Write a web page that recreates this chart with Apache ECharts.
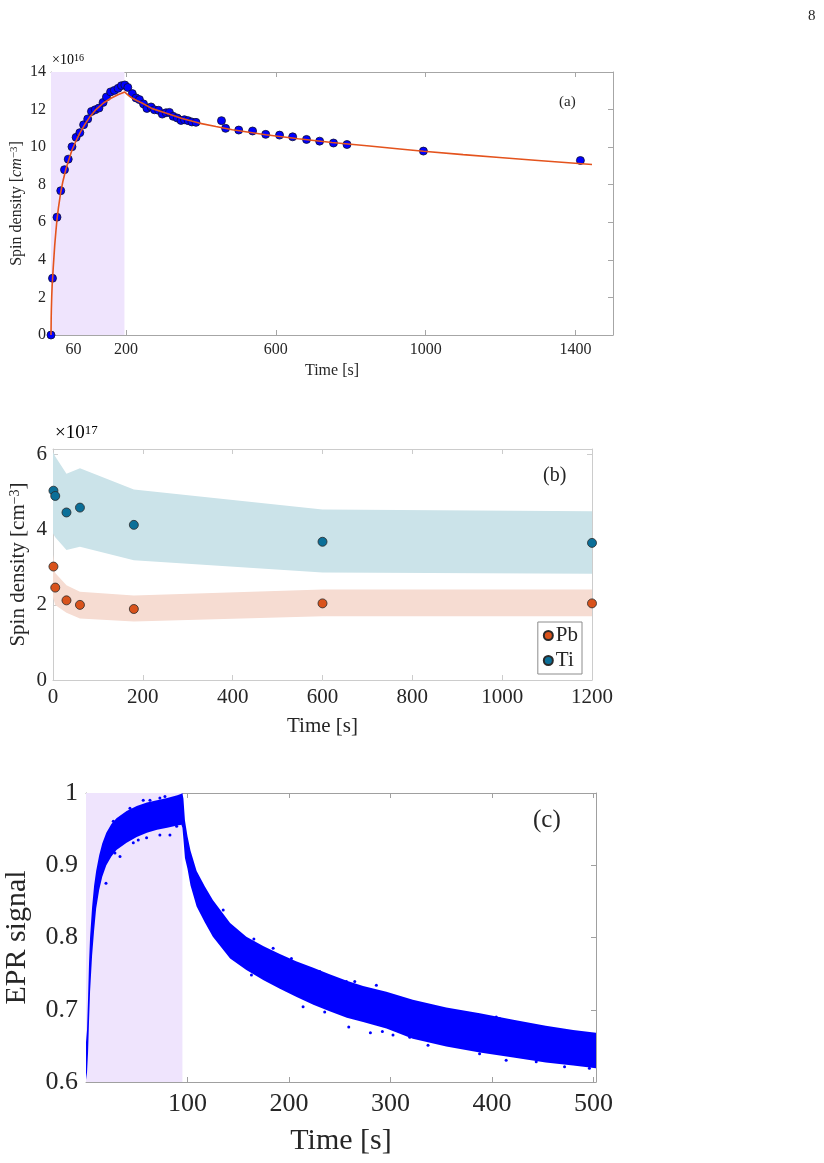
<!DOCTYPE html>
<html>
<head>
<meta charset="utf-8">
<script src="https://cdn.jsdelivr.net/npm/echarts@6/dist/echarts.min.js"></script>
<style>
html, body { margin: 0; padding: 0; background: #fff; }
#chart { width: 824px; height: 1163px; }
</style>
</head>
<body>
<div id="chart"></div>
<script>
// (a) spin density build-up and decay
const aTime = [0, 4, 16, 26, 36, 46, 56, 67, 77, 87, 98, 108, 118, 128, 139, 148, 159, 169, 179, 188, 197,
  205, 217, 227, 236, 247, 256, 267, 276, 287, 297, 307, 316, 326, 337, 347, 356, 366, 376, 387,
  455, 466, 501, 538, 573, 610, 645, 682, 717, 754, 790, 994, 1413];
const aSpin = [0, 3.02, 6.27, 7.68, 8.8, 9.36, 10.02, 10.52, 10.77, 11.19, 11.5, 11.9, 11.99, 12.08, 12.38, 12.67, 12.94, 13.02, 13.13, 13.27, 13.31,
  13.18, 12.85, 12.62, 12.53, 12.3, 12.06, 12.14, 11.99, 11.96, 11.76, 11.83, 11.85, 11.64, 11.55, 11.42, 11.46, 11.41, 11.34, 11.32,
  11.41, 11.0, 10.91, 10.86, 10.68, 10.64, 10.55, 10.41, 10.32, 10.22, 10.14, 9.79, 9.29];
const aFitTime = [0, 0.5, 1, 2, 3, 4.4, 6, 8, 10, 13, 16, 20, 26, 32, 40, 48, 56, 66, 77, 90, 105, 120, 140, 160, 180, 197,
  205, 216, 230, 243, 270, 306, 350, 395, 440, 484, 573, 660, 750, 850, 931, 994, 1100, 1197, 1300, 1444];
const aFitSpin = [0, 0.9, 1.4, 2.1, 2.6, 3.05, 3.6, 4.2, 4.8, 5.5, 6.15, 6.8, 7.6, 8.2, 8.85, 9.35, 9.85, 10.3, 10.75, 11.2, 11.65, 12.0, 12.35, 12.6, 12.8, 12.93,
  12.78, 12.62, 12.47, 12.35, 12.05, 11.82, 11.52, 11.28, 11.1, 10.93, 10.66, 10.45, 10.25, 10.06, 9.9, 9.78, 9.6, 9.45, 9.29, 9.08];
const aShade = [0, 196];
const aXTicks = [60, 200, 600, 1000, 1400];

// (b) Pb and Ti centres
const bTime = [1, 5, 30, 60, 180, 600, 1200];
const pbSpin = [3.02, 2.46, 2.12, 2.0, 1.89, 2.04, 2.04];
const tiSpin = [5.04, 4.9, 4.46, 4.59, 4.13, 3.68, 3.65];
const bandTime = [0, 5, 30, 60, 180, 600, 1200];
const tiUpper = [6.07, 5.95, 5.49, 5.64, 5.07, 4.54, 4.49];
const tiLower = [3.9, 3.8, 3.46, 3.55, 3.19, 2.86, 2.83];
const pbUpper = [3.35, 2.85, 2.52, 2.35, 2.25, 2.41, 2.41];
const pbLower = [2.2, 2.0, 1.79, 1.64, 1.56, 1.7, 1.7];
const bYTicks = [0, 2, 4, 6];

// (c) EPR signal cloud: upper / lower edge of the dense band, plus stray points
const cTime = [0, 1, 2, 3, 4, 6, 8, 10, 13, 16, 20, 25, 30, 40, 50, 60, 70, 80, 90, 94,
  95, 96, 97.5, 100, 103, 109, 117, 125, 142, 158, 175, 191, 207, 224, 240, 257, 273, 296, 322, 355,
  388, 421, 453, 480, 502.5];
const cUpper = [0.655, 0.672, 0.715, 0.765, 0.8, 0.842, 0.872, 0.892, 0.914, 0.93, 0.945, 0.957, 0.965, 0.975, 0.982, 0.987, 0.99, 0.993, 0.997, 0.999,
  1.0, 0.992, 0.962, 0.94, 0.92, 0.892, 0.871, 0.852, 0.82, 0.801, 0.788, 0.777, 0.767, 0.758, 0.749, 0.74, 0.733, 0.725, 0.714, 0.703,
  0.695, 0.686, 0.678, 0.672, 0.668];
const cLower = [0.603, 0.613, 0.64, 0.685, 0.725, 0.775, 0.81, 0.84, 0.866, 0.884, 0.9, 0.912, 0.921, 0.931, 0.939, 0.945, 0.949, 0.952, 0.955, 0.956,
  0.952, 0.936, 0.91, 0.895, 0.872, 0.843, 0.821, 0.801, 0.771, 0.755, 0.741, 0.729, 0.718, 0.707, 0.698, 0.689, 0.683, 0.674, 0.66, 0.649,
  0.641, 0.634, 0.627, 0.623, 0.619];
const cOutTime = [19.7, 26.9, 28.5, 33.5, 40, 43.3, 46.6, 51.5, 56.4, 59.7, 63, 72.8, 72.8, 77.8, 82.7, 89.3, 92.5,
  135.2, 141.7, 151.6, 163, 165.4, 172.9, 184.4, 191, 202.4, 213.9, 222.1, 230.3, 235.2, 243.4, 246.7, 256.6, 258.9, 264.8, 276.3, 280.2, 286.1, 292,
  302.5, 309, 319, 337, 338.6, 355, 361, 387.8, 404.2, 407.5, 414, 427.2, 443.6, 460, 471.5, 486.2, 496];
const cOutSignal = [0.875, 0.961, 0.917, 0.912, 0.935, 0.979, 0.931, 0.935, 0.99, 0.938, 0.99, 0.942, 0.993, 0.995, 0.942, 0.954, 0.958,
  0.838, 0.778, 0.766, 0.748, 0.798, 0.755, 0.785, 0.734, 0.771, 0.704, 0.746, 0.753, 0.697, 0.743, 0.711, 0.739, 0.676, 0.739, 0.725, 0.668, 0.734, 0.67,
  0.665, 0.709, 0.662, 0.651, 0.704, 0.695, 0.695, 0.639, 0.69, 0.688, 0.63, 0.681, 0.628, 0.672, 0.621, 0.667, 0.619];
const cShade = [0, 95];
const cXTicks = [100, 200, 300, 400, 500];
const cYTicks = [0.6, 0.7, 0.8, 0.9, 1];

const serif = 'Liberation Serif';
const ink = '#262626';
const zip = (xs, ys) => xs.map((x, i) => [x, ys[i]]);
const fmt = (v) => String(+v.toFixed(2));

function axis(o) {
  const main = !o.mirror;
  return {
    type: 'value',
    gridIndex: o.grid,
    min: o.min,
    max: o.max,
    position: o.position,
    axisLine: { show: true, onZero: false, lineStyle: { color: o.line, width: 1 } },
    axisTick: { show: true, inside: true, length: 5, customValues: o.ticks, lineStyle: { color: o.line } },
    axisLabel: {
      show: main, customValues: o.ticks, margin: o.margin, color: ink,
      fontFamily: serif, fontSize: o.fontSize, formatter: fmt,
    },
    splitLine: { show: false },
    name: main ? o.name : '',
    nameLocation: 'middle',
    nameGap: o.nameGap,
    nameMoveOverlap: false,
    nameTextStyle: Object.assign({ color: ink, fontFamily: serif, fontSize: o.nameSize }, o.nameStyle || {}),
  };
}

function shadeItem(color) {
  return function (params, api) {
    const p0 = api.coord([api.value(0), api.value(3)]);
    const p1 = api.coord([api.value(1), api.value(2)]);
    return { type: 'rect', shape: { x: p0[0], y: p0[1], width: p1[0] - p0[0], height: p1[1] - p0[1] }, style: { fill: color } };
  };
}

function bandItem(times, upper, lower, color) {
  return function (params, api) {
    const pts = [];
    for (let i = 0; i < times.length; i++) pts.push(api.coord([times[i], upper[i]]));
    for (let i = times.length - 1; i >= 0; i--) pts.push(api.coord([times[i], lower[i]]));
    return { type: 'polygon', shape: { points: pts }, style: { fill: color } };
  };
}

const chart = echarts.init(document.getElementById('chart'));

const supRich = (size, sup) => ({
  it: { fontFamily: serif, fontSize: size, color: ink, fontStyle: 'italic' },
  sup: { fontFamily: serif, fontSize: sup, color: ink, verticalAlign: 'top' },
});

const option = {
  animation: false,
  backgroundColor: '#fff',
  grid: [
    { left: 51, top: 72, width: 562, height: 263, outerBoundsMode: 'none' },
    { left: 53, top: 449, width: 539, height: 231, outerBoundsMode: 'none' },
    { left: 86, top: 793, width: 510, height: 289, outerBoundsMode: 'none' },
  ],
  xAxis: [
    axis({ grid: 0, min: 0, max: 1500, ticks: aXTicks, position: 'bottom', line: '#a6a6a6', margin: 7, fontSize: 16,
      name: 'Time [s]', nameGap: 28, nameSize: 16 }),
    axis({ grid: 0, min: 0, max: 1500, ticks: aXTicks, position: 'top', line: '#a6a6a6', mirror: true }),
    axis({ grid: 1, min: 0, max: 1200, ticks: [0, 200, 400, 600, 800, 1000, 1200], position: 'bottom', line: '#cccccc', margin: 7, fontSize: 21,
      name: 'Time [s]', nameGap: 36, nameSize: 21 }),
    axis({ grid: 1, min: 0, max: 1200, ticks: [0, 200, 400, 600, 800, 1000, 1200], position: 'top', line: '#cccccc', mirror: true }),
    axis({ grid: 2, min: 0, max: 502.5, ticks: cXTicks, position: 'bottom', line: '#a0a0a0', margin: 9, fontSize: 26,
      name: 'Time [s]', nameGap: 44, nameSize: 30 }),
    axis({ grid: 2, min: 0, max: 502.5, ticks: cXTicks, position: 'top', line: '#a0a0a0', mirror: true }),
  ],
  yAxis: [
    axis({ grid: 0, min: 0, max: 14, ticks: [0, 2, 4, 6, 8, 10, 12, 14], position: 'left', line: '#a6a6a6', margin: 5, fontSize: 16,
      name: 'Spin density [{it|cm}{sup|−3}]', nameGap: 26, nameSize: 16, nameStyle: { rich: supRich(16, 11) } }),
    axis({ grid: 0, min: 0, max: 14, ticks: [0, 2, 4, 6, 8, 10, 12, 14], position: 'right', line: '#a6a6a6', mirror: true }),
    axis({ grid: 1, min: 0, max: 6.15, ticks: bYTicks, position: 'left', line: '#cccccc', margin: 6, fontSize: 21,
      name: 'Spin density [cm{sup|−3}]', nameGap: 24, nameSize: 21, nameStyle: { rich: supRich(21, 14) } }),
    axis({ grid: 1, min: 0, max: 6.15, ticks: bYTicks, position: 'right', line: '#cccccc', mirror: true }),
    axis({ grid: 2, min: 0.6, max: 1, ticks: cYTicks, position: 'left', line: '#a0a0a0', margin: 8, fontSize: 26,
      name: 'EPR signal', nameGap: 54, nameSize: 30 }),
    axis({ grid: 2, min: 0.6, max: 1, ticks: cYTicks, position: 'right', line: '#a0a0a0', mirror: true }),
  ],
  legend: {
    data: ['Pb', 'Ti'],
    orient: 'vertical',
    right: 242,
    bottom: 489,
    icon: 'circle',
    itemWidth: 9,
    itemHeight: 9,
    itemGap: 4,
    padding: [3, 4, 3, 5],
    borderColor: '#8c8c8c',
    borderWidth: 1,
    backgroundColor: '#fff',
    textStyle: { fontFamily: serif, fontSize: 21, color: ink, padding: [0, 0, 0, -2] },
  },
  graphic: [
    { type: 'text', left: 808, top: 9, style: { text: '8', font: '15px "Liberation Serif"', fill: ink } },
    { type: 'text', left: 52, top: 53, style: { text: '{b|×10}{s|16}', rich: { b: { fontFamily: serif, fontSize: 14, color: ink }, s: { fontFamily: serif, fontSize: 10, color: ink, verticalAlign: 'top' } } } },
    { type: 'text', left: 559, top: 95, style: { text: '(a)', font: '15px "Liberation Serif"', fill: ink } },
    { type: 'text', left: 55, top: 424, style: { text: '{b|×10}{s|17}', rich: { b: { fontFamily: serif, fontSize: 19, color: ink }, s: { fontFamily: serif, fontSize: 13, color: ink, verticalAlign: 'top' } } } },
    { type: 'text', left: 543, top: 466, style: { text: '(b)', font: '20px "Liberation Serif"', fill: ink } },
    { type: 'text', left: 533, top: 808, style: { text: '(c)', font: '25px "Liberation Serif"', fill: ink } },
  ],
  series: [
    // (a)
    { type: 'custom', name: 'shadeA', xAxisIndex: 0, yAxisIndex: 0, z: 1, silent: true,
      renderItem: shadeItem('#efe4fd'), data: [[aShade[0], aShade[1], 0, 14]] },
    { type: 'scatter', name: 'a-data', xAxisIndex: 0, yAxisIndex: 0, z: 3, symbolSize: 8,
      itemStyle: { color: '#0000ff', borderColor: '#101030', borderWidth: 0.8, opacity: 1 },
      data: zip(aTime, aSpin) },
    { type: 'line', name: 'a-fit', xAxisIndex: 0, yAxisIndex: 0, z: 4, showSymbol: false, smooth: false,
      lineStyle: { color: '#e4531d', width: 1.6 }, data: zip(aFitTime, aFitSpin) },
    // (b)
    { type: 'custom', name: 'tiBand', xAxisIndex: 2, yAxisIndex: 2, z: 1, silent: true,
      renderItem: bandItem(bandTime, tiUpper, tiLower, '#cbe3e9'), data: [[0, 0]] },
    { type: 'custom', name: 'pbBand', xAxisIndex: 2, yAxisIndex: 2, z: 1, silent: true,
      renderItem: bandItem(bandTime, pbUpper, pbLower, '#f6dcd2'), data: [[0, 0]] },
    { type: 'scatter', name: 'Pb', xAxisIndex: 2, yAxisIndex: 2, z: 3, symbolSize: 9, clip: false,
      itemStyle: { color: '#d9531c', borderColor: '#2a2a2a', borderWidth: 0.8, opacity: 1 },
      data: zip(bTime, pbSpin) },
    { type: 'scatter', name: 'Ti', xAxisIndex: 2, yAxisIndex: 2, z: 3, symbolSize: 9, clip: false,
      itemStyle: { color: '#0b6f98', borderColor: '#2a2a2a', borderWidth: 0.8, opacity: 1 },
      data: zip(bTime, tiSpin) },
    // (c)
    { type: 'custom', name: 'shadeC', xAxisIndex: 4, yAxisIndex: 4, z: 1, silent: true,
      renderItem: shadeItem('#efe4fd'), data: [[cShade[0], cShade[1], 0.6, 1]] },
    { type: 'custom', name: 'cloud', xAxisIndex: 4, yAxisIndex: 4, z: 2, silent: true,
      renderItem: bandItem(cTime, cUpper, cLower, '#0000ff'), data: [[0, 0.6]] },
    { type: 'scatter', name: 'c-stray', xAxisIndex: 4, yAxisIndex: 4, z: 3, symbolSize: 3,
      itemStyle: { color: '#0000ff', opacity: 1 }, data: zip(cOutTime, cOutSignal) },
  ],
};

chart.setOption(option);
</script>
</body>
</html>
